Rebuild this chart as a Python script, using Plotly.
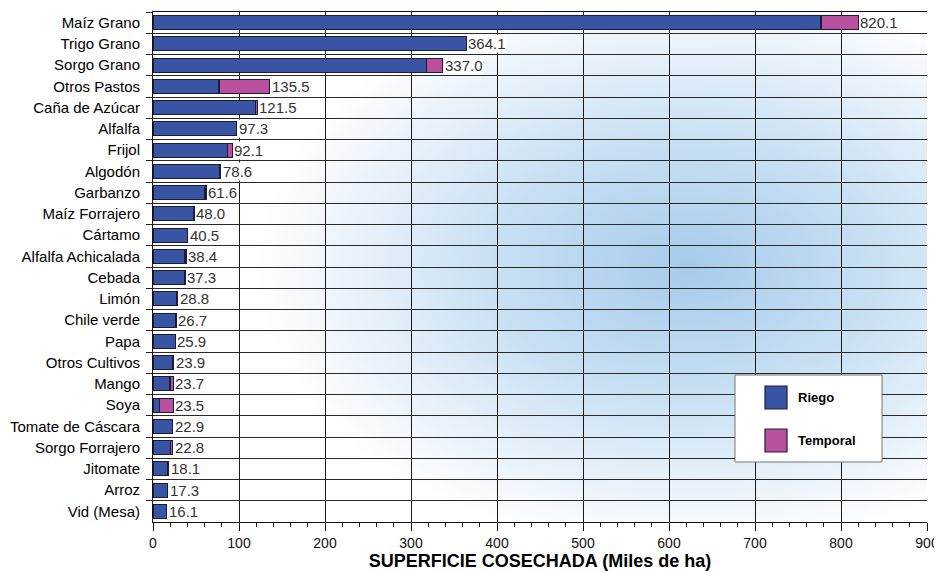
import plotly.graph_objects as go

cultivos = ["Maíz Grano", "Trigo Grano", "Sorgo Grano", "Otros Pastos", "Caña de Azúcar",
            "Alfalfa", "Frijol", "Algodón", "Garbanzo", "Maíz Forrajero", "Cártamo",
            "Alfalfa Achicalada", "Cebada", "Limón", "Chile verde", "Papa", "Otros Cultivos",
            "Mango", "Soya", "Tomate de Cáscara", "Sorgo Forrajero", "Jitomate", "Arroz",
            "Vid (Mesa)"]
totales = [820.1, 364.1, 337.0, 135.5, 121.5, 97.3, 92.1, 78.6, 61.6, 48.0, 40.5, 38.4,
           37.3, 28.8, 26.7, 25.9, 23.9, 23.7, 23.5, 22.9, 22.8, 18.1, 17.3, 16.1]
riego = [776.7, 364.1, 318.0, 76.7, 119.0, 97.0, 86.9, 78.0, 60.0, 47.0, 40.0, 37.0,
         37.3, 27.0, 26.0, 25.9, 23.0, 19.8, 7.3, 22.9, 20.6, 17.5, 17.0, 16.1]
temporal = [round(t - r, 1) for t, r in zip(totales, riego)]
series_names = ["Riego", "Temporal"]
x_ticks = [0, 100, 200, 300, 400, 500, 600, 700, 800, 900]

FONT = "Liberation Sans, Arial, sans-serif"
BLUE = "#3a54a4"
PINK = "#b8509e"
OUTLINE = "#1c1c3a"

fig = go.Figure()
fig.add_trace(go.Bar(y=cultivos, x=riego, orientation="h", name=series_names[0],
                     marker=dict(color=BLUE, line=dict(color=OUTLINE, width=1.2)),
                     showlegend=False, hoverinfo="x+y"))
fig.add_trace(go.Bar(y=cultivos, x=temporal, orientation="h", name=series_names[1],
                     marker=dict(color=PINK, line=dict(color=OUTLINE, width=1.2)),
                     showlegend=False, hoverinfo="x+y"))

# value labels with white background
for c, t in zip(cultivos, totales):
    fig.add_annotation(x=t, y=c, xref="x", yref="y", text=f"{t:.1f}", showarrow=False,
                       xanchor="left", yanchor="middle", xshift=1,
                       bgcolor="white", borderpad=0,
                       font=dict(family=FONT, size=15, color="#333333"))

# radial gradient background
svg = ("data:image/svg+xml;utf8,"
       "<svg xmlns='http://www.w3.org/2000/svg' width='774' height='510' preserveAspectRatio='none'>"
       "<defs><radialGradient id='g' cx='0.69' cy='0.5' r='0.56'>"
       "<stop offset='0' stop-color='%23a6cbeb'/>"
       "<stop offset='0.45' stop-color='%23c9e0f3'/>"
       "<stop offset='1' stop-color='%23ffffff'/>"
       "</radialGradient></defs>"
       "<rect width='774' height='510' fill='url(%23g)'/></svg>")
fig.add_layout_image(dict(source=svg, xref="paper", yref="paper", x=0, y=1,
                          sizex=1, sizey=1, sizing="stretch", xanchor="left",
                          yanchor="top", layer="below"))

# manual legend (positions given in reference-page pixels)
L = 153; T = 12; W = 774; H = 510
def px(x):
    return (x - L) / W
def py(y):
    return 1 - (y - T) / H

fig.add_shape(type="rect", xref="paper", yref="paper", x0=px(735), x1=px(882),
              y0=py(462), y1=py(375), fillcolor="white", line=dict(color="#777777", width=1))
leg_rows = [(386, BLUE, series_names[0]), (429, PINK, series_names[1])]
for ytop, col, name in leg_rows:
    fig.add_shape(type="rect", xref="paper", yref="paper", x0=px(765), x1=px(787),
                  y0=py(ytop + 23), y1=py(ytop), fillcolor=col,
                  line=dict(color=OUTLINE, width=1.2))
    fig.add_annotation(xref="paper", yref="paper", x=px(796), y=py(ytop + 11.5),
                       text=f"<b>{name}</b>", showarrow=False, xanchor="left",
                       yanchor="middle", font=dict(family=FONT, size=13, color="black"))

# the page body has an 8px margin, so the figure is 8px smaller and shifted
fig.update_layout(
    barmode="stack",
    bargap=0.34,
    width=934, height=564,
    margin=dict(l=145, r=15, t=4, b=50, autoexpand=False),
    paper_bgcolor="white",
    plot_bgcolor="rgba(0,0,0,0)",
    font=dict(family=FONT, size=13, color="black"),
    showlegend=False,
)
fig.update_xaxes(range=[0, 900], tickvals=x_ticks, ticks="outside", ticklen=8,
                 tickcolor="#111111", tickwidth=1, automargin=False,
                 minor=dict(dtick=20, ticks="outside", ticklen=4, tickcolor="#111111",
                            showgrid=False),
                 showline=True, linecolor="#111111", linewidth=1, mirror=True,
                 showgrid=True, gridcolor="#1a1a1a", gridwidth=1, zeroline=False,
                 tickfont=dict(family=FONT, size=14, color="#111111"),
                 title=dict(text="<b>SUPERFICIE COSECHADA (Miles de ha)</b>",
                            font=dict(family=FONT, size=18, color="black"), standoff=0))
fig.update_yaxes(type="category", categoryorder="array", categoryarray=cultivos,
                 autorange="reversed", tickson="boundaries", ticks="outside", ticklen=6,
                 tickcolor="#222222", showline=True, linecolor="#111111", linewidth=1,
                 showgrid=True, gridcolor="#2a2a2a", gridwidth=1, automargin=False,
                 ticklabelstandoff=9,
                 tickfont=dict(family=FONT, size=15, color="black"))

fig.write_html("out.html")
